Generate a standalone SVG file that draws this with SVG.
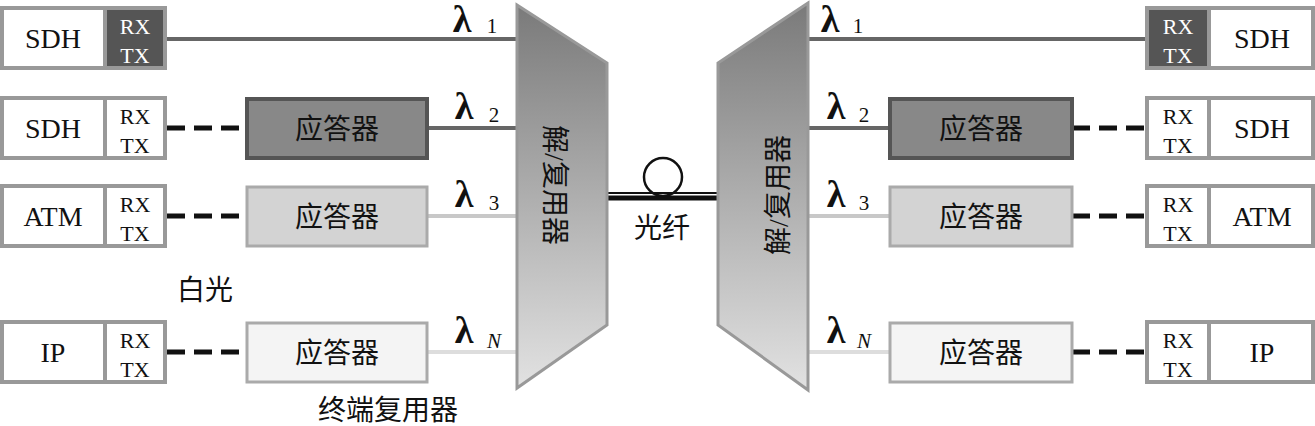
<svg xmlns="http://www.w3.org/2000/svg" width="1315" height="426" viewBox="0 0 1315 426">
<style>
text{font-family:"Liberation Serif","Noto Sans CJK SC",serif;fill:#111;text-anchor:middle}
.b{fill:#fff;stroke:#999;stroke-width:4}
.t{font-size:28px}
.s{font-size:22px}
.l{font-size:38px;font-weight:bold}
.sub{font-size:21px}
.d{stroke:#111;stroke-width:5;stroke-dasharray:18,9}
</style>
<defs>
<linearGradient id="g" x1="0" y1="0" x2="0" y2="1"><stop offset="0" stop-color="#7a7a7a"/><stop offset="1" stop-color="#e2e2e2"/></linearGradient>
</defs>
<g id="connectors">
<line x1="165" y1="39" x2="517" y2="39" stroke="#666" stroke-width="4"/>
<line x1="427" y1="128" x2="517" y2="128" stroke="#666" stroke-width="4"/>
<line x1="427" y1="216" x2="517" y2="216" stroke="#c8c8c8" stroke-width="4"/>
<line x1="427" y1="352" x2="517" y2="352" stroke="#ddd" stroke-width="4"/>
<line class="d" x1="167" y1="128" x2="247" y2="128"/>
<line class="d" x1="167" y1="216" x2="247" y2="216"/>
<line class="d" x1="167" y1="352" x2="247" y2="352"/>
<line x1="808" y1="39" x2="1147" y2="39" stroke="#666" stroke-width="4"/>
<line x1="808" y1="128" x2="890" y2="128" stroke="#666" stroke-width="4"/>
<line x1="808" y1="216" x2="890" y2="216" stroke="#c8c8c8" stroke-width="4"/>
<line x1="808" y1="352" x2="890" y2="352" stroke="#ddd" stroke-width="4"/>
<line class="d" x1="1072" y1="128" x2="1147" y2="128"/>
<line class="d" x1="1072" y1="216" x2="1147" y2="216"/>
<line class="d" x1="1072" y1="352" x2="1147" y2="352"/>
<line x1="607" y1="193" x2="718" y2="193" stroke="#111" stroke-width="2"/>
<line x1="607" y1="198" x2="718" y2="198" stroke="#111" stroke-width="5"/>
<circle cx="663" cy="177" r="19" fill="none" stroke="#111" stroke-width="2.5"/>
</g>
<g id="mux-left"><polygon points="517,5 607,63 607,325 517,388" fill="url(#g)" stroke="#999" stroke-width="3"/>
<text class="t" transform="translate(555,185) rotate(90)" dy="10">解/复用器</text></g>
<g id="mux-right"><polygon points="808,3 718,63 718,325 808,390" fill="url(#g)" stroke="#999" stroke-width="3"/>
<text class="t" transform="translate(778,195) rotate(-90)" dy="10">解/复用器</text></g>
<g id="fiber-label"><text class="t" x="662" y="238">光纤</text></g>
<g id="lambdas">
<text class="l" x="462" y="32">λ</text><text class="sub" x="492" y="33">1</text>
<text class="l" x="464" y="119">λ</text><text class="sub" x="494" y="122">2</text>
<text class="l" x="464" y="207">λ</text><text class="sub" x="494" y="210">3</text>
<text class="l" x="464" y="343">λ</text><text class="sub" x="494" y="348" font-style="italic">N</text>
<text class="l" x="830" y="32">λ</text><text class="sub" x="858" y="33">1</text>
<text class="l" x="836" y="119">λ</text><text class="sub" x="864" y="122">2</text>
<text class="l" x="836" y="207">λ</text><text class="sub" x="864" y="210">3</text>
<text class="l" x="836" y="343">λ</text><text class="sub" x="864" y="348" font-style="italic">N</text>
</g>
<g id="L1"><rect class="b" x="2" y="8" width="163" height="60"/><rect x="105" y="8" width="60" height="60" fill="#555" stroke="#999" stroke-width="4"/><text class="t" x="53" y="48">SDH</text><text class="s" x="135" y="34" style="fill:#fff">RX</text><text class="s" x="135" y="63" style="fill:#fff">TX</text></g>
<g id="L2"><rect class="b" x="2" y="98" width="163" height="60"/><line x1="105" y1="98" x2="105" y2="158" stroke="#999" stroke-width="4"/><text class="t" x="53" y="138">SDH</text><text class="s" x="135" y="124">RX</text><text class="s" x="135" y="153">TX</text></g>
<g id="L3"><rect class="b" x="2" y="186" width="163" height="60"/><line x1="105" y1="186" x2="105" y2="246" stroke="#999" stroke-width="4"/><text class="t" x="53" y="226">ATM</text><text class="s" x="135" y="212">RX</text><text class="s" x="135" y="241">TX</text></g>
<g id="L4"><rect class="b" x="2" y="322" width="163" height="60"/><line x1="105" y1="322" x2="105" y2="382" stroke="#999" stroke-width="4"/><text class="t" x="53" y="362">IP</text><text class="s" x="135" y="348">RX</text><text class="s" x="135" y="377">TX</text></g>
<g id="LT2"><rect x="247" y="99" width="180" height="59" fill="#888" stroke="#555" stroke-width="4"/><text class="t" x="337" y="139">应答器</text></g>
<g id="LT3"><rect x="247" y="187" width="180" height="59" fill="#d3d3d3" stroke="#aaa" stroke-width="3"/><text class="t" x="337" y="227">应答器</text></g>
<g id="LT4"><rect x="247" y="323" width="180" height="59" fill="#f4f4f4" stroke="#aaa" stroke-width="3"/><text class="t" x="337" y="363">应答器</text></g>
<g id="R1"><rect class="b" x="1147" y="8" width="166" height="60"/><rect x="1147" y="8" width="62" height="60" fill="#555" stroke="#999" stroke-width="4"/><text class="t" x="1262" y="48">SDH</text><text class="s" x="1178" y="34" style="fill:#fff">RX</text><text class="s" x="1178" y="63" style="fill:#fff">TX</text></g>
<g id="R2"><rect class="b" x="1147" y="98" width="166" height="60"/><line x1="1209" y1="98" x2="1209" y2="158" stroke="#999" stroke-width="4"/><text class="t" x="1262" y="138">SDH</text><text class="s" x="1178" y="124">RX</text><text class="s" x="1178" y="153">TX</text></g>
<g id="R3"><rect class="b" x="1147" y="186" width="166" height="60"/><line x1="1209" y1="186" x2="1209" y2="246" stroke="#999" stroke-width="4"/><text class="t" x="1262" y="226">ATM</text><text class="s" x="1178" y="212">RX</text><text class="s" x="1178" y="241">TX</text></g>
<g id="R4"><rect class="b" x="1147" y="322" width="166" height="60"/><line x1="1209" y1="322" x2="1209" y2="382" stroke="#999" stroke-width="4"/><text class="t" x="1262" y="362">IP</text><text class="s" x="1178" y="348">RX</text><text class="s" x="1178" y="377">TX</text></g>
<g id="RT2"><rect x="890" y="99" width="182" height="59" fill="#888" stroke="#555" stroke-width="4"/><text class="t" x="981" y="139">应答器</text></g>
<g id="RT3"><rect x="890" y="187" width="182" height="59" fill="#d3d3d3" stroke="#aaa" stroke-width="3"/><text class="t" x="981" y="227">应答器</text></g>
<g id="RT4"><rect x="890" y="323" width="182" height="59" fill="#f4f4f4" stroke="#aaa" stroke-width="3"/><text class="t" x="981" y="363">应答器</text></g>
<g id="labels"><text class="t" x="205" y="300">白光</text><text class="t" x="388" y="420">终端复用器</text></g>
</svg>
